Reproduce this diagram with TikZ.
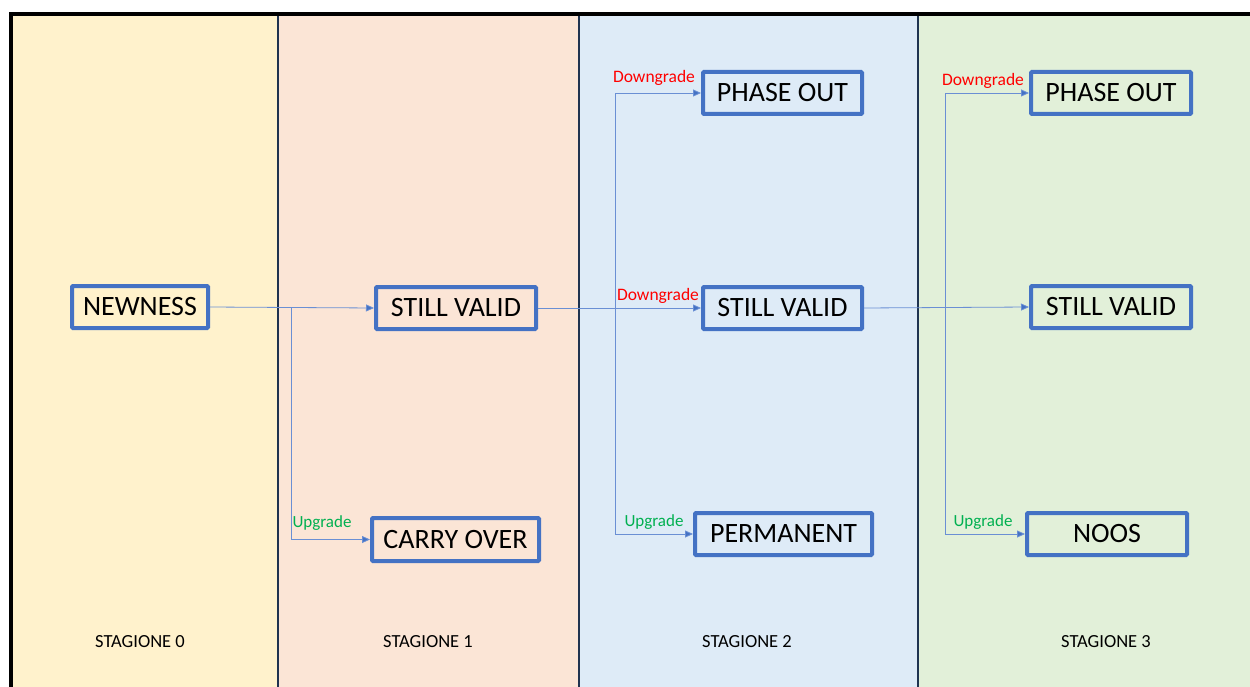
\documentclass[tikz,border=0pt]{standalone}
\usepackage{fontspec}
\setmainfont{Carlito}
\usetikzlibrary{positioning, arrows.meta}

\definecolor{boxblue}{HTML}{4472C4}
\definecolor{linkblue}{HTML}{6A8FD4}
\definecolor{upgreen}{HTML}{00B050}
\definecolor{navy}{HTML}{1F3350}
\definecolor{col0}{HTML}{FFF2CC}
\definecolor{col1}{HTML}{FBE5D6}
\definecolor{col2}{HTML}{DEEBF7}
\definecolor{col3}{HTML}{E2F0D9}

\tikzset{
  stato/.style={draw=boxblue, line width=4pt, rounded corners=1pt, inner sep=0pt,
    minimum height=42pt, text=black, font=\fontsize{28}{32}\selectfont},
  flow/.style={draw=linkblue, line width=0.8pt, -{Triangle[length=8pt,width=7pt,fill=boxblue]}},
  downlbl/.style={text=red, font=\fontsize{17.5}{20}\selectfont},
  uplbl/.style={text=upgreen, font=\fontsize{17}{20}\selectfont},
  stage/.style={text=black, font=\fontsize{18.5}{22}\selectfont}
}

\begin{document}
\begin{tikzpicture}[x=1pt,y=-1pt]
          \useasboundingbox (0,0) rectangle (1250,687);
          \fill[white] (0,0) rectangle (1250,687);

          % season columns
          \begin{scope}
            \fill[col0] (10,14) rectangle (278,687);
            \fill[col1] (278,14) rectangle (579,687);
            \fill[col2] (579,14) rectangle (918,687);
            \fill[col3] (918,14) rectangle (1250,687);
            \draw[navy, line width=1.2pt] (278,16) -- (278,687);
            \draw[navy, line width=1.2pt] (579,16) -- (579,687);
            \draw[navy, line width=1.2pt] (918,16) -- (918,687);
            \draw[black, line width=4pt] (1250,14.5) -- (11,14.5) -- (11,687);
          \end{scope}

          \node (stag0) [stage] at (140,642) {STAGIONE 0};
          \node (stag1) [stage] at (428,642) {STAGIONE 1};
          \node (stag2) [stage] at (747,642) {STAGIONE 2};
          \node (stag3) [stage] at (1106,642) {STAGIONE 3};

          \begin{scope}
            \node (newness) [stato, minimum width=136pt] at (140,307) {NEWNESS};
            \node (valid1) [stato, minimum width=160pt] at (456,308) {STILL VALID};
            \node (carry) [stato, minimum width=167pt, minimum height=43pt] at (455.5,539.5) {CARRY OVER};
            \node (phase2) [stato, minimum width=159pt] at (782.5,93) {PHASE OUT};
            \node (valid2) [stato, minimum width=159pt] at (782.5,308) {STILL VALID};
            \node (perm) [stato, minimum width=177pt] at (783.5,534) {PERMANENT};
            \node (phase3) [stato, minimum width=160pt] at (1111,93) {PHASE OUT};
            \node (valid3) [stato, minimum width=160pt] at (1111,307) {STILL VALID};
            \node (noos) [stato, minimum width=160pt] at (1107,534) {NOOS};
          \end{scope}

          \coordinate (split1) at (291,308);
          \coordinate (split2) at (615,308);
          \coordinate (split3) at (945,311);

          \draw[flow] (newness.east) -- (valid1.west);
          \draw[flow] (split1) |- (carry.west);
          \draw[flow] (valid1.east) -- (valid2.west);
          \draw[flow] (split2) |- (phase2.west);
          \draw[flow] (split2) |- (perm.west);
          \draw[flow] (valid2.east) -- (valid3.west);
          \draw[flow] (split3) |- (phase3.west);
          \draw[flow] (split3) |- (noos.west);

          \node (up1) [uplbl] at (322,523) {Upgrade};
          \node (down2a) [downlbl] at (654,78) {Downgrade};
          \node (down2b) [downlbl] at (658,296) {Downgrade};
          \node (up2) [uplbl] at (654,522) {Upgrade};
          \node (down3) [downlbl] at (983,81) {Downgrade};
          \node (up3) [uplbl] at (983,522) {Upgrade};
        \end{tikzpicture}
\end{document}
